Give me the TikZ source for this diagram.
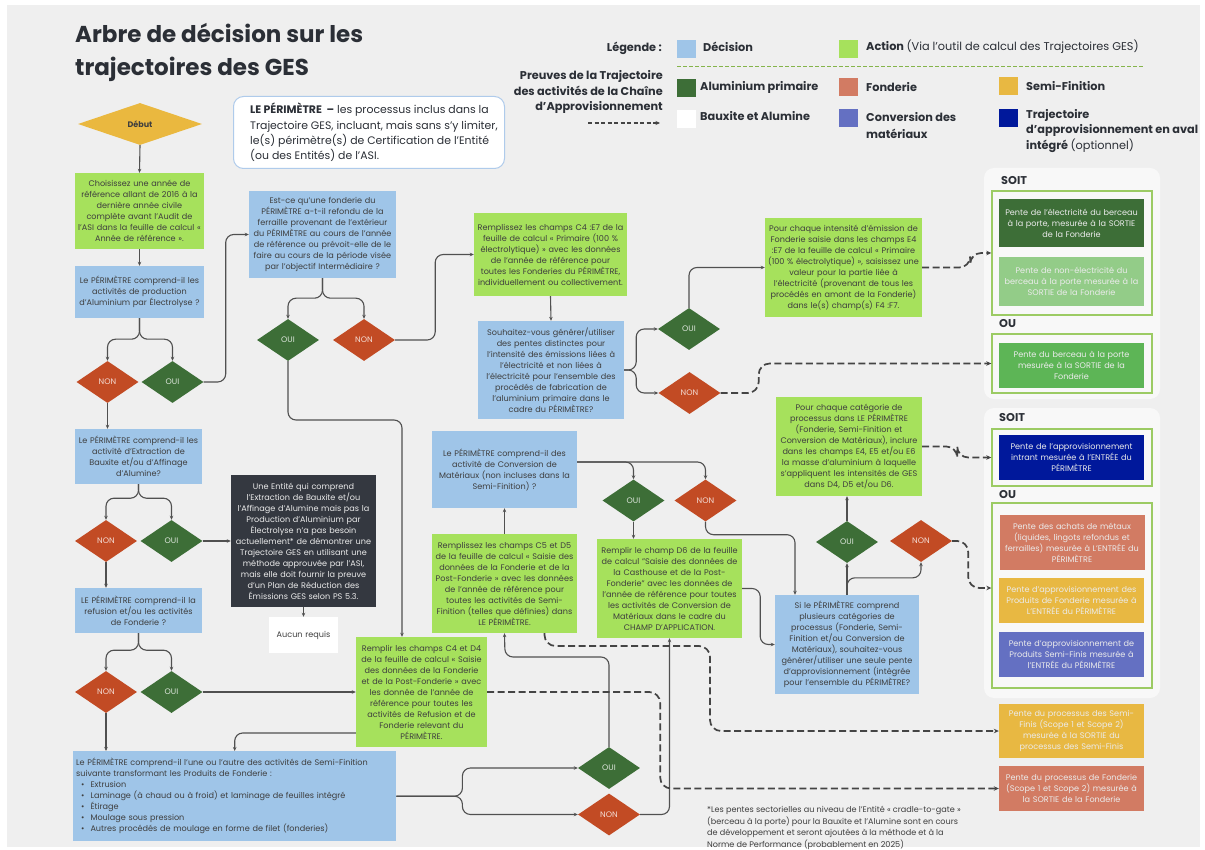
\documentclass[tikz,border=0pt]{standalone}
\usepackage{fontspec}
\setmainfont{Poppins}
\usetikzlibrary{arrows.meta,shapes.geometric}

\definecolor{bgray}{HTML}{EFEFEF}
\definecolor{decblue}{HTML}{9FC5E8}
\definecolor{actgreen}{HTML}{A6E15C}
\definecolor{ouigreen}{HTML}{3D6E37}
\definecolor{nonred}{HTML}{C24B24}
\definecolor{debyel}{HTML}{EAB83F}
\definecolor{fondsalmon}{HTML}{D27B63}
\definecolor{semiyel}{HTML}{E8B842}
\definecolor{convviolet}{HTML}{6470C2}
\definecolor{avalnavy}{HTML}{00189B}
\definecolor{lightgreen}{HTML}{93CC88}
\definecolor{midgreen}{HTML}{5DB556}
\definecolor{darkbox}{HTML}{343840}
\definecolor{txt}{HTML}{3E3E3E}
\definecolor{wire}{HTML}{505050}
\definecolor{framegreen}{HTML}{9CCB64}
\definecolor{panel}{HTML}{F8F8F8}
\definecolor{perimblue}{HTML}{AFCBEB}
\definecolor{titletxt}{HTML}{2B2F36}

\begin{document}
\begin{tikzpicture}[x=1pt,y=-1pt]
	\tikzstyle{every node}+=[inner sep=0pt]
	\tikzstyle{body}=[font=\fontsize{8.1}{11}\selectfont, align=center, text=txt]
	\tikzstyle{decision}=[body, fill=decblue]
	\tikzstyle{action}=[body, fill=actgreen]
	\tikzstyle{oui}=[diamond, fill=ouigreen, minimum width=62pt, minimum height=42pt, font=\fontsize{8}{9}\selectfont, text=white!82!ouigreen]
	\tikzstyle{non}=[oui, fill=nonred, text=white!80!nonred]
	\tikzstyle{pente}=[body, text=white!92!black]
	\tikzstyle{frame}=[draw=framegreen, line width=1.4pt, fill=panel]
	\tikzstyle{legtext}=[anchor=west, font=\fontsize{11.3}{15.5}\selectfont\bfseries, text=titletxt, align=left]
	\tikzstyle{key}=[minimum width=19pt, minimum height=18pt]
	\tikzstyle{flow}=[draw=wire, line width=1.1pt, rounded corners=8pt, -{Stealth[length=4pt,width=3.5pt]}]
	\tikzstyle{proof}=[draw=wire!85!black, line width=1.7pt, dash pattern=on 7pt off 3.5pt, rounded corners=11pt, -{Stealth[length=5pt,width=4.5pt]}]
	\tikzset{box/.style 2 args={minimum width=#1, text width=#1, minimum height=#2}}
	% page and background
	\fill [white] (0,0) rectangle (1205,850);
	\fill [bgray] (7,5) rectangle (1200,847);
	\useasboundingbox (0,0) rectangle (1205,850);
	% title
	\node [anchor=base west, font=\fontsize{23}{33}\selectfont\bfseries, text=titletxt] (title1) at (75,43) {Arbre de décision sur les};
	\node [anchor=base west, font=\fontsize{23}{33}\selectfont\bfseries, text=titletxt] (title2) at (75,76) {trajectoires des GES};
	% legend
	\node [legtext, anchor=east] (leg) at (662,48) {Légende :};
	\node [key, fill=decblue] (kdec) at (686.5,49) {};
	\node [legtext] (ldec) at (703,47) {Décision};
	\node [key, fill=actgreen] (kact) at (848.5,49) {};
	\node [legtext] (lact) at (866,47) {Action \mdseries(Via l’outil de calcul des Trajectoires GES)};
	\draw [actgreen!80!black, line width=1pt, dash pattern=on 4pt off 2pt] (677,67) -- (1143,67);
	\node [legtext, anchor=east, align=right, font=\fontsize{11.3}{15.3}\selectfont\bfseries] (lproof) at (663,92) {Preuves de la Trajectoire\\des activités de la Chaîne\\d’Approvisionnement};
	\draw [proof, line width=1.2pt, dash pattern=on 4pt off 2.5pt, -{Stealth[length=4.5pt,width=4pt]}] (588,123) -- (660,123);
	\node [key, fill=ouigreen] (kprim) at (686.5,88) {};
	\node [legtext] (lprim) at (700,87) {Aluminium primaire};
	\node [key, fill=white] (kbaux) at (686.5,119) {};
	\node [legtext] (lbaux) at (700,116) {Bauxite et Alumine};
	\node [key, fill=fondsalmon] (kfond) at (848.5,87.5) {};
	\node [legtext] (lfond) at (866,87) {Fonderie};
	\node [key, fill=convviolet] (kconv) at (848.5,118.5) {};
	\node [legtext, font=\fontsize{11.3}{17}\selectfont\bfseries] (lconv) at (866,125.5) {Conversion des\\matériaux};
	\node [key, fill=semiyel] (ksemi) at (1008.5,86.5) {};
	\node [legtext] (lsemi) at (1026,86) {Semi-Finition};
	\node [key, fill=avalnavy] (kaval) at (1008.5,118.5) {};
	\node [legtext] (laval) at (1026,131) {Trajectoire\\d’approvisionnement en aval\\intégré \mdseries(optionnel)};
	% perimeter note
	\node [draw=perimblue, line width=1pt, fill=white, rounded corners=10pt, anchor=north west, minimum width=271pt, minimum height=72pt] (perim) at (233,96) {};
	\node [anchor=west, align=left, font=\fontsize{10.9}{15.3}\selectfont, text=titletxt] (perimtext) at (250,132.5) {\textbf{LE PÉRIMÈTRE\ \ –} les processus inclus dans la\\Trajectoire GES, incluant, mais sans s’y limiter,\\le(s) périmètre(s) de Certification de l’Entité\\(ou des Entités) de l’ASI.};
	% left column
	\node [diamond, fill=debyel, minimum width=124pt, minimum height=42pt, font=\fontsize{8}{9}\selectfont\bfseries, text=txt] (debut) at (140,124) {Début};
	\node [action, box={129pt}{76pt}] (choix) at (139.5,211) {Choisissez une année de\\référence allant de 2016 à la\\dernière année civile\\complète avant l’Audit de\\l’ASI dans la feuille de calcul «\\Année de référence ».};
	\node [decision, box={129pt}{52pt}] (qelec) at (139.5,292) {Le PÉRIMÈTRE comprend-il les\\activités de production\\d’Aluminium par Électrolyse ?};
	\node [non] (non1) at (107.5,382) {NON};
	\node [oui] (oui1) at (172.5,382) {OUI};
	\node [decision, box={127pt}{55pt}] (qbaux) at (138.5,456.5) {Le PÉRIMÈTRE comprend-il les\\activité d’Extraction de\\Bauxite et/ou d’Affinage\\d’Alumine?};
	\node [non] (non2) at (106,541) {NON};
	\node [oui] (oui2) at (171.5,541) {OUI};
	\node [body, fill=darkbox, text=white!92!black, box={145pt}{132pt}] (dark) at (303.5,541) {Une Entité qui comprend\\l’Extraction de Bauxite et/ou\\l’Affinage d’Alumine mais pas la\\Production d’Aluminium par\\Électrolyse n’a pas besoin\\actuellement* de démontrer une\\Trajectoire GES en utilisant une\\méthode approuvée par l’ASI,\\mais elle doit fournir la preuve\\d’un Plan de Réduction des\\Émissions GES selon PS 5.3.};
	\node [body, fill=white, box={69pt}{36pt}] (aucun) at (303.5,635) {Aucun requis};
	\node [decision, box={127pt}{45pt}] (qfond) at (138.5,610.5) {LE PÉRIMÈTRE comprend-il la\\refusion et/ou les activités\\de Fonderie ?};
	\node [non] (non3) at (106,692) {NON};
	\node [oui] (oui3) at (171.5,692) {OUI};
	\node [decision, align=left, anchor=north west, minimum width=323pt, text width=317pt, inner xsep=3pt, minimum height=90pt] (qsemi) at (73,751) {Le PÉRIMÈTRE comprend-il l’une ou l’autre des activités de Semi-Finition\\suivante transformant les Produits de Fonderie :\\\hspace*{5pt}\textbullet\hspace{6pt}Extrusion\\\hspace*{5pt}\textbullet\hspace{6pt}Laminage (à chaud ou à froid) et laminage de feuilles intégré\\\hspace*{5pt}\textbullet\hspace{6pt}Étirage\\\hspace*{5pt}\textbullet\hspace{6pt}Moulage sous pression\\\hspace*{5pt}\textbullet\hspace{6pt}Autres procédés de moulage en forme de filet (fonderies)};
	\node [action, box={131pt}{110pt}] (c4d4) at (421.5,692) {Remplir les champs C4 et D4\\de la feuille de calcul « Saisie\\des données de la Fonderie\\et de la Post-Fonderie » avec\\les donnée de l’année de\\référence pour toutes les\\activités de Refusion et de\\Fonderie relevant du\\PÉRIMÈTRE.};
	% middle
	\node [decision, box={147pt}{87pt}] (est) at (322.5,234.5) {Est-ce qu’une fonderie du\\PÉRIMÈTRE a-t-il refondu de la\\ferraille provenant de l’extérieur\\du PÉRIMÈTRE au cours de l’année\\de référence ou prévoit-elle de le\\faire au cours de la période visée\\par l’objectif Intermédiaire ?};
	\node [oui] (oui4) at (288,340) {OUI};
	\node [non] (non4) at (364,340) {NON};
	\node [action, box={153pt}{83pt}] (c4e7) at (550.5,254.5) {Remplissez les champs C4 :E7 de la\\feuille de calcul « Primaire (100 \%\\électrolytique) » avec les données\\de l’année de référence pour\\toutes les Fonderies du PÉRIMÈTRE,\\individuellement ou collectivement.};
	\node [decision, box={146pt}{98pt}] (souh) at (551,370) {Souhaitez-vous générer/utiliser\\des pentes distinctes pour\\l’intensité des émissions liées à\\l’électricité et non liées à\\l’électricité pour l’ensemble des\\procédés de fabrication de\\l’aluminium primaire dans le\\cadre du PÉRIMÈTRE?};
	\node [oui] (oui5) at (689,329) {OUI};
	\node [non] (non5) at (689.5,393) {NON};
	\node [action, box={157pt}{99pt}] (intens) at (843.5,267.5) {Pour chaque intensité d’émission de\\Fonderie saisie dans les champs E4\\:E7 de la feuille de calcul « Primaire\\(100 \% électrolytique) », saisissez une\\valeur pour la partie liée à\\l’électricité (provenant de tous les\\procédés en amont de la Fonderie)\\dans le(s) champ(s) F4 :F7.};
	\node [decision, box={145pt}{77pt}] (qconv) at (504.5,469.5) {Le PÉRIMÈTRE comprend-il des\\activité de Conversion de\\Matériaux (non incluses dans la\\Semi-Finition) ?};
	\node [oui] (oui6) at (633.5,500.5) {OUI};
	\node [non] (non6) at (705.5,500.5) {NON};
	\node [action, box={145pt}{99pt}] (c5d5) at (504.5,583.5) {Remplissez les champs C5 et D5\\de la feuille de calcul « Saisie des\\données de la Fonderie et de la\\Post-Fonderie » avec les données\\de l’année de référence pour\\toutes les activités de Semi-\\Finition (telles que définies) dans\\LE PÉRIMÈTRE.};
	\node [action, box={145pt}{99pt}] (d6) at (669.5,588.5) {Remplir le champ D6 de la feuille\\de calcul "Saisie des données de\\la Casthouse et de la Post-\\Fonderie" avec les données de\\l’année de référence pour toutes\\les activités de Conversion de\\Matériaux dans le cadre du\\CHAMP D’APPLICATION.};
	\node [action, box={146pt}{99pt}] (categ) at (849,446.5) {Pour chaque catégorie de\\processus dans LE PÉRIMÈTRE\\(Fonderie, Semi-Finition et\\Conversion de Matériaux), inclure\\dans les champs E4, E5 et/ou E6\\la masse d’aluminium à laquelle\\s’appliquent les intensités de GES\\dans D4, D5 et/ou D6.};
	\node [oui] (oui7) at (847,542) {OUI};
	\node [non] (non7) at (921,541) {NON};
	\node [decision, box={144pt}{99pt}] (simult) at (847,644.5) {Si le PÉRIMÈTRE comprend\\plusieurs catégories de\\processus (Fonderie, Semi-\\Finition et/ou Conversion de\\Matériaux), souhaitez-vous\\générer/utiliser une seule pente\\d’approvisionnement (intégrée\\pour l’ensemble du PÉRIMÈTRE?};
	\node [oui] (oui8) at (609,768) {OUI};
	\node [non] (non8) at (609,814.5) {NON};
	% right panels
	\fill [panel, rounded corners=10pt] (984,168) rectangle (1160,399);
	\node [legtext] (soit1) at (1001,181) {SOIT};
	\node [frame, minimum width=160pt, minimum height=124pt] (frame1a) at (1072,253) {};
	\node [pente, fill=ouigreen, box={145pt}{48pt}] (elec) at (1071.5,223) {Pente de l’électricité du berceau\\à la porte, mesurée à la SORTIE\\de la Fonderie};
	\node [pente, fill=lightgreen, box={145pt}{49pt}] (nonelec) at (1071.5,281.5) {Pente de non-électricité du\\berceau à la porte mesurée à la\\SORTIE de la Fonderie};
	\node [legtext] (ou1) at (999,324) {OU};
	\node [frame, minimum width=160pt, minimum height=59pt] (frame1b) at (1072,363.5) {};
	\node [pente, fill=midgreen, box={145pt}{45pt}] (berceau) at (1071.5,365.5) {Pente du berceau à la porte\\mesurée à la SORTIE de la\\Fonderie};
	\fill [panel, rounded corners=10pt] (984,408) rectangle (1160,698);
	\node [legtext] (soit2) at (999,418) {SOIT};
	\node [frame, minimum width=160pt, minimum height=57pt] (frame2a) at (1072,457.5) {};
	\node [pente, fill=avalnavy, box={145pt}{45pt}] (intrant) at (1071.5,457.5) {Pente de l’approvisionnement\\intrant mesurée à l’ENTRÉE du\\PÉRIMÈTRE};
	\node [legtext] (ou2) at (999,495) {OU};
	\node [frame, minimum width=160pt, minimum height=185pt] (frame2b) at (1072,595.5) {};
	\node [pente, fill=fondsalmon, box={145pt}{55pt}] (achats) at (1072,542.5) {Pente des achats de métaux\\(liquides, lingots refondus et\\ferrailles) mesurée à L’ENTRÉE du\\PÉRIMÈTRE};
	\node [pente, fill=semiyel, box={145pt}{45pt}] (approfond) at (1071.5,600.5) {Pente d’approvisionnement des\\Produits de Fonderie mesurée à\\L’ENTRÉE du PÉRIMÈTRE};
	\node [pente, fill=convviolet, box={145pt}{45pt}] (approsemi) at (1071.5,654.5) {Pente d’approvisionnement de\\Produits Semi-Finis mesurée à\\l’ENTRÉE du PÉRIMÈTRE};
	\node [pente, fill=semiyel, box={145pt}{54pt}] (procsemi) at (1071.5,731) {Pente du processus des Semi-\\Finis (Scope 1 et Scope 2)\\mesurée à la SORTIE du\\processus des Semi-Finis};
	\node [pente, fill=fondsalmon, box={145pt}{45pt}] (procfond) at (1071.5,788.5) {Pente du processus de Fonderie\\(Scope 1 et Scope 2) mesurée à\\la SORTIE de la Fonderie};
	% footnote
	\node [anchor=north west, align=left, font=\fontsize{8.1}{11.5}\selectfont, text=txt] (note) at (707,806) {*Les pentes sectorielles au niveau de l’Entité « cradle-to-gate »\\(berceau à la porte) pour la Bauxite et l’Alumine sont en cours\\de développement et seront ajoutées à la méthode et à la\\Norme de Performance (probablement en 2025)};
	% solid connectors
	\draw [flow] (debut.south) -- (choix.north);
	\draw [flow] (choix.south) -- (qelec.north);
	\draw [flow] (qelec.south) -- ++(0,21) -| (non1.north);
	\draw [flow] (qelec.south) -- ++(0,21) -| (oui1.north);
	\draw [flow] (oui1.east) -- ++(22,0) |- (est.west);
	\draw [flow] (non1.south) -- (non1.south |- qbaux.north);
	\draw [flow] (qbaux.south) -- ++(0,14) -| (non2.north);
	\draw [flow] (qbaux.south) -- ++(0,14) -| (oui2.north);
	\draw [flow] (oui2.east) -- (dark.west);
	\draw [flow] (dark.south) -- (aucun.north);
	\draw [flow] (non2.south) -- (non2.south |- qfond.north);
	\draw [flow] (qfond.south) -- ++(0,17) -| (non3.north);
	\draw [flow] (qfond.south) -- ++(0,17) -| (oui3.north);
	\draw [flow] (oui3.east) -- (oui3.east -| c4d4.west);
	\draw [flow] (non3.south) -- (non3.south |- qsemi.north);
	\draw [flow] ([yshift=-41pt]c4d4.west) -| (qsemi.north);
	\draw [flow] (qsemi.east) -- ++(66,0) |- (oui8.west);
	\draw [flow] (qsemi.east) -- ++(66,0) |- (non8.west);
	\draw [flow] (oui8.north) |- (505,657) -- (c5d5.south);
	\draw [flow] (non8.east) -| (d6.south);
	\draw [flow] (c5d5.north) -- (qconv.south);
	\draw [flow] (qconv.east |- 0,462) -| (oui6.north);
	\draw [flow] (qconv.east |- 0,462) -| (non6.north);
	\draw [flow] (oui6.south) -- (oui6.south |- d6.north);
	\draw [flow] (non6.south) -- ++(0,13) -| ([xshift=-52pt]simult.north);
	\draw [flow] (d6.east) -- ++(18,0) |- (simult.west);
	\draw [flow] (simult.north) -- (oui7.south);
	\draw [flow] (simult.north) -- ++(0,-17) -| (non7.south);
	\draw [flow] (oui7.north) -- (oui7.north |- categ.south);
	\draw [flow] (est.south) -- ++(0,20) -| (oui4.north);
	\draw [flow] (est.south) -- ++(0,20) -| (non4.north);
	\draw [flow] (oui4.south) |- (402,420) -- ([xshift=-19.5pt]c4d4.north);
	\draw [flow] (non4.east) -- ++(40,0) |- (c4e7.west);
	\draw [flow] (c4e7.south) -- (souh.north);
	\draw [flow] (souh.east) -- ++(12,0) |- (oui5.west);
	\draw [flow] (souh.east) -- ++(12,0) |- (non5.west);
	\draw [flow] (oui5.north) |- (intens.west);
	% supply chain proof connectors
	\draw [proof] (non5.east) -- ++(38,0) |- (frame1b.west);
	\draw [proof] (intens.east) -- ++(48,0) |- (frame1a.west);
	\draw [proof] (categ.east) -- ++(35,0) |- (frame2a.west);
	\draw [proof] (non7.east) -- ++(16,0) |- (frame2b.west |- 0,588);
	\draw [proof] (c4d4.east) -- ++(173,0) |- (procfond.west);
	\draw [proof] ([xshift=40pt]c5d5.south) |- (710,646) |- (procsemi.west);
\end{tikzpicture}
\end{document}
